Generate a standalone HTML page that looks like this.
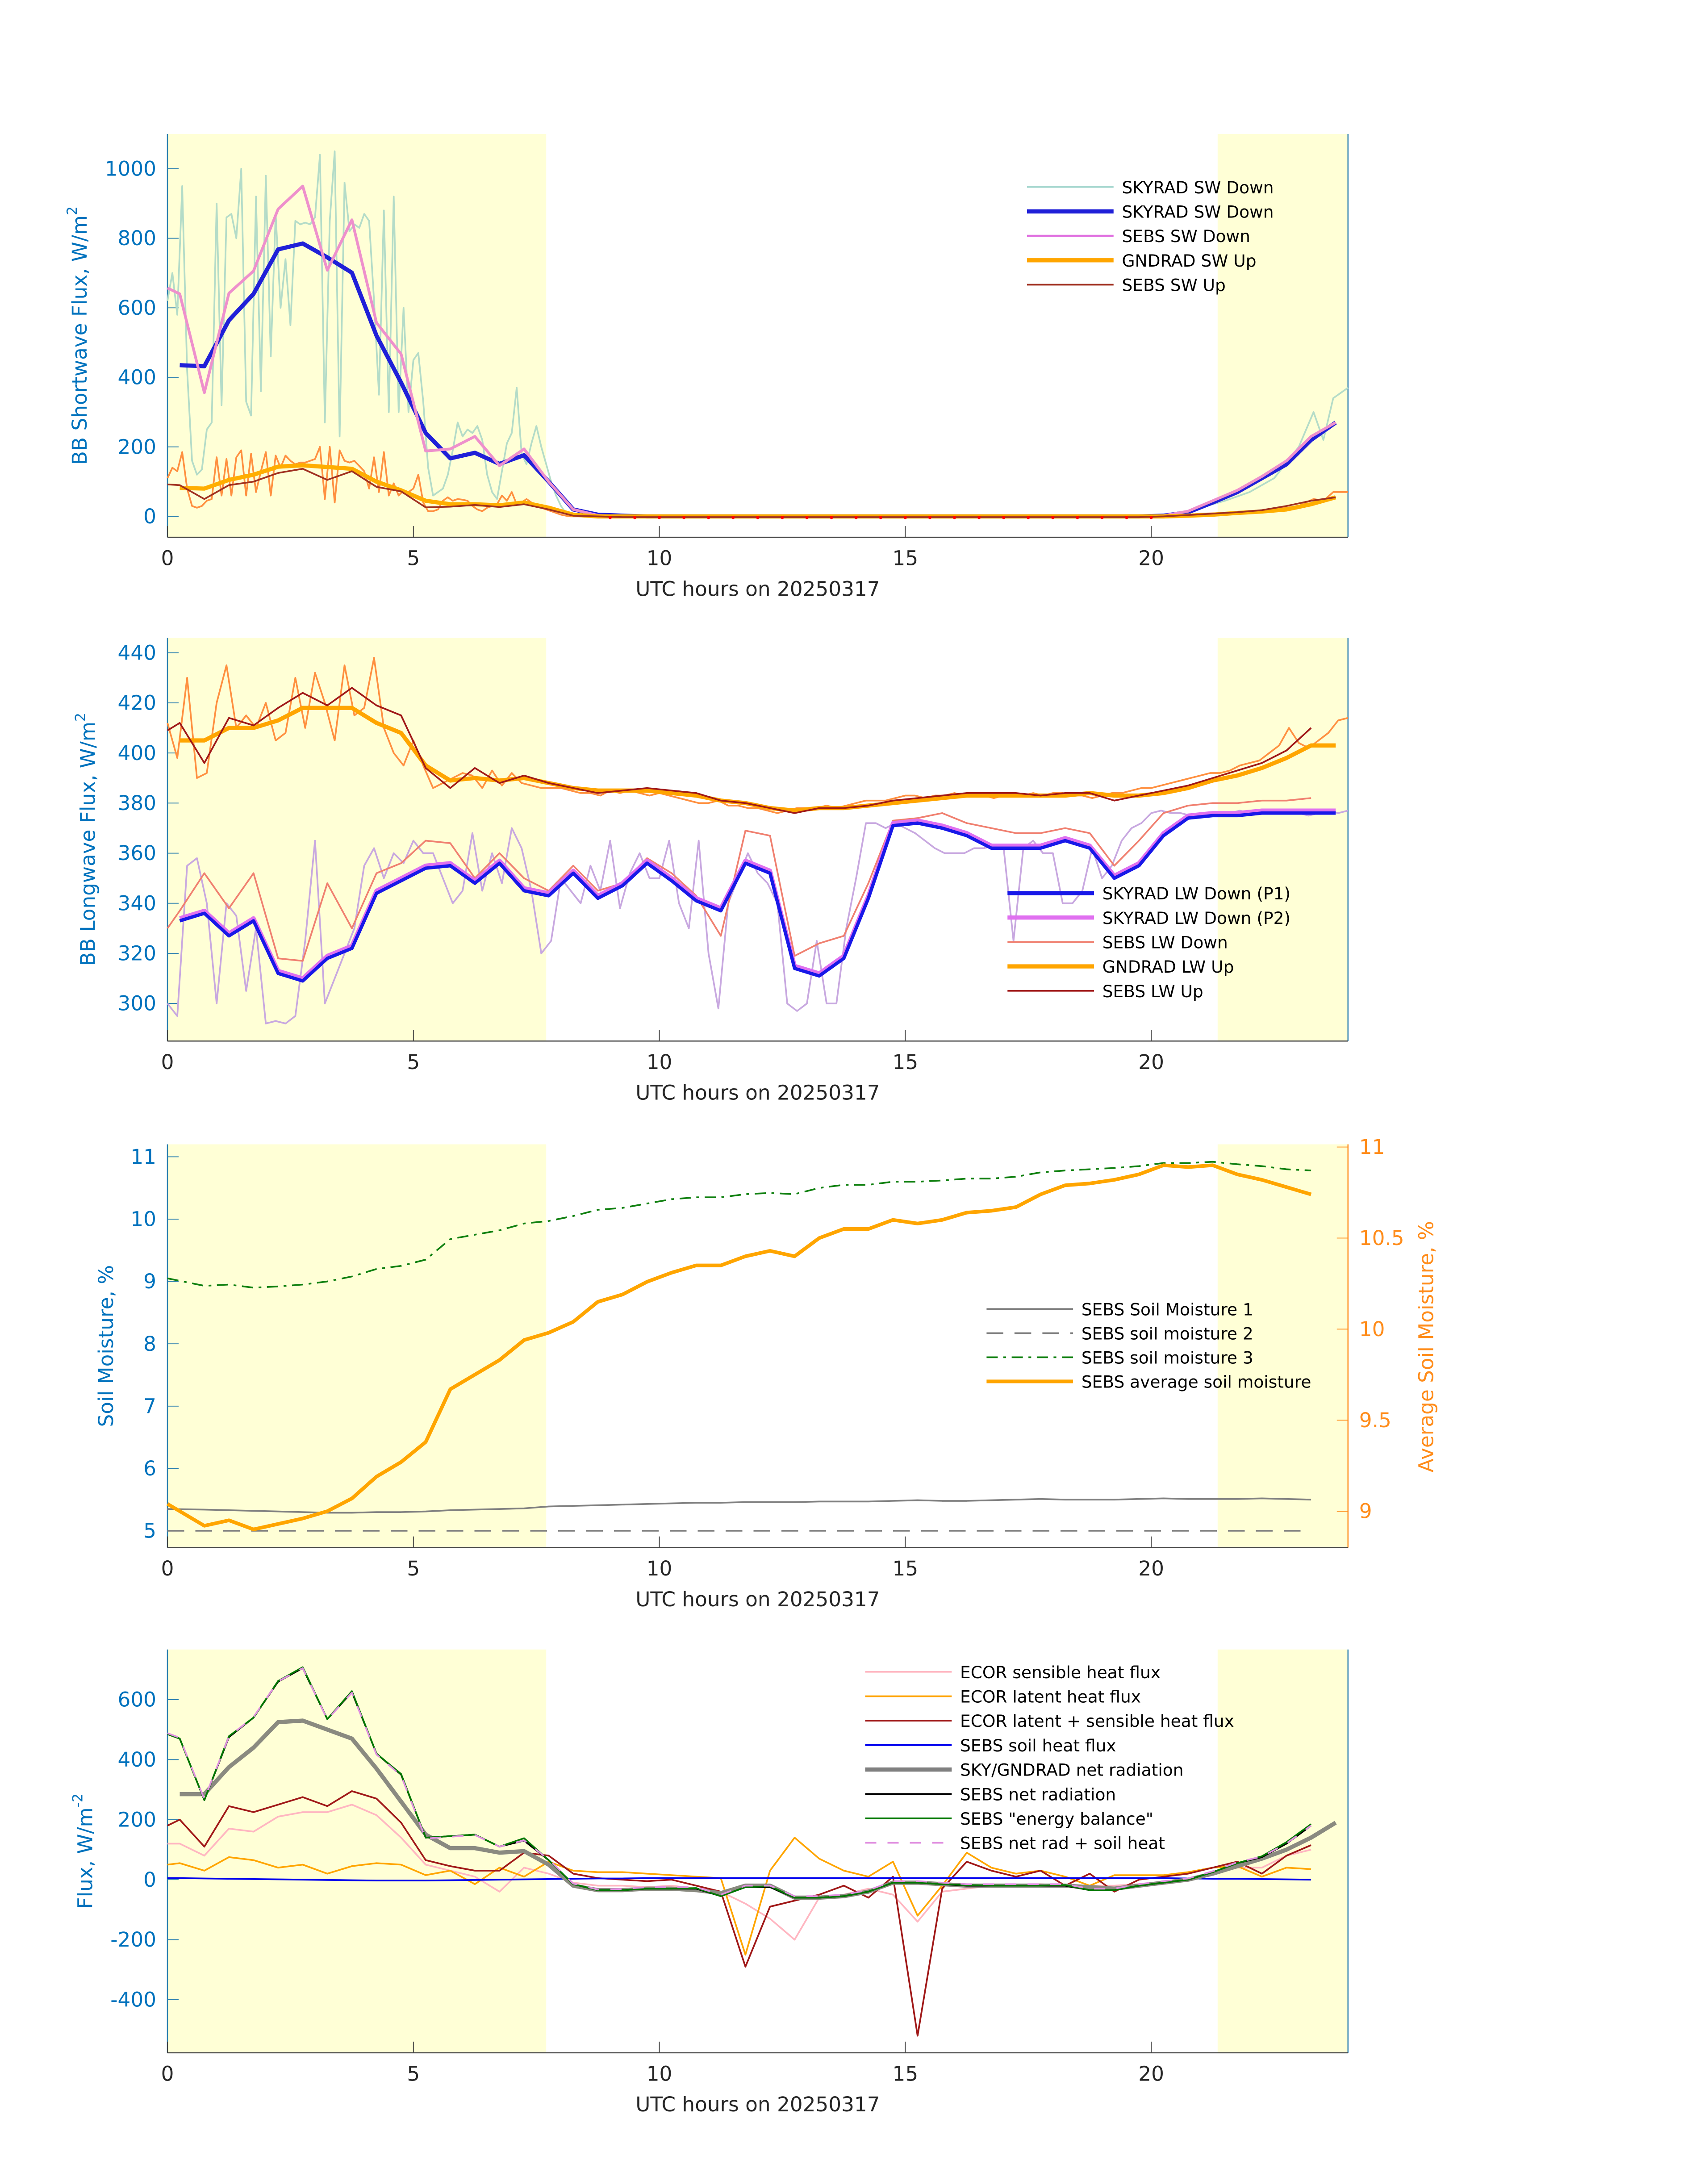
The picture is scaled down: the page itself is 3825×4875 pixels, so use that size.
<!DOCTYPE html>
<html><head><meta charset="utf-8">
<style>
html,body{margin:0;padding:0;background:#fff;}
svg{display:block;font-family:"DejaVu Sans","Liberation Sans",sans-serif;}
</style></head>
<body>
<svg id="fig" xmlns="http://www.w3.org/2000/svg" width="3825" height="4875" viewBox="0 0 1224 1560"></svg>
<script>
// ---------- DATA ----------
const halfT = [];
for (let i = 0; i < 48; i++) halfT.push(0.25 + 0.5 * i);
const xTicks = [0, 5, 10, 15, 20];

// Panel 1 shortwave
const rawSwT = [];
for (let i = 0; i <= 85; i++) rawSwT.push(i / 10);
const rawSwDown = [620,700,580,950,420,160,120,135,250,270, 900,320,860,870,800,1000,330,290,920,360, 980,460,870,600,740,550,850,840,845,840, 860,1040,270,850,1050,230,960,820,840,830, 870,850,620,350,880,300,920,300,600,300, 450,470,330,140,60,70,80,120,190,270, 230,250,240,260,220,120,70,50,130,210, 240,370,180,150,210,260,200,150,100,60, 30,10,5,2,0,0];
const rawSwUp = [110,140,130,185,80,30,25,30,45,50, 170,60,165,60,170,190,60,180,70,130, 185,60,175,140,175,160,150,155,155,160, 165,200,50,200,40,190,160,155,160,145, 130,80,170,70,185,60,95,60,75,70, 80,120,40,15,15,20,45,55,45,50, 48,45,30,20,15,25,30,35,60,45, 70,35,40,50,40,30,25,20,15,10, 5,2,0,0,0,0];
const tailT = [9,12,15,18,20,20.5,21,21.5,22,22.5,23,23.3,23.5,23.7,24];
const tailSwDown = [0,0,0,0,0,5,25,45,70,110,200,300,220,340,370];
const tailSwUp = [0,0,0,0,0,2,8,10,15,20,30,50,45,70,70];
const skySwDown = [435,432,564,640,768,785,745,701,520,385,240,167,183,151,176,100,20,5,2,0,0,0,0,0,0,0,0,0,0,0,0,0,0,0,0,0,0,0,0,0,2,12,40,70,110,150,220,270];
const sebsSwT = [0].concat(halfT);
const sebsSwDown = [657,640,356,642,706,884,950,708,853,557,467,188,194,230,146,194,100,20,3,0,0,0,0,0,0,0,0,0,0,0,0,0,0,0,0,0,0,0,0,0,0,2,15,45,75,115,160,230,270];
const gndSwUp = [82,80,105,120,143,147,142,137,100,75,45,35,35,32,40,25,5,0,0,0,0,0,0,0,0,0,0,0,0,0,0,0,0,0,0,0,0,0,0,0,0,2,5,10,14,20,35,55];
const sebsSwUp = [92,90,50,90,100,125,137,105,130,85,72,26,28,33,27,35,20,2,0,-2,-2,-2,-2,-2,-2,-2,-2,-2,-2,-2,-2,-2,-2,-2,-2,-2,-2,-2,-2,-2,-2,0,4,8,12,18,30,45,55];
const dotT = [9,9.5,10,10.5,11,11.5,12,12.5,13,13.5,14,14.5,15,15.5,16,16.5,17,17.5,18,18.5,19,19.5,20];
const dotV = [-3,-3,-3,-3,-3,-3,-3,-3,-3,-3,-3,-3,-3,-3,-3,-3,-3,-3,-3,-3,-3,-3,-3];

// Panel 2 longwave
const rawLwT = [];
for (let i = 0; i <= 120; i++) rawLwT.push(i / 5);
const rawLwDown = [300,295,355,358,340,300,340,335,305,330, 292,293,292,295,325,365,300,310,320,330, 355,362,350,360,356,365,360,360,350,340, 345,368,345,360,348,370,362,345,320,325, 350,345,340,355,345,365,338,352,360,350, 350,365,340,330,365,320,298,340,350,360, 352,348,340,300,297,300,325,300,300,330, 350,372,372,370,372,370,368,365,362,360, 360,360,362,362,363,362,325,362,365,360, 360,340,340,345,362,350,355,365,370,372, 376,377,376,376,375,375,376,376,376,377, 376,377,377,376,376,376,375,376,377,376,377];
const rawLwUp = [412,398,430,390,392,420,435,410,415,410, 420,405,408,430,410,432,420,405,435,415, 418,438,410,400,395,405,395,386,388,390, 392,391,386,393,387,392,388,387,386,386, 386,385,384,384,383,385,384,385,384,383, 384,383,382,381,380,380,381,379,379,378, 378,377,376,377,378,378,378,379,378,379, 380,381,381,381,382,383,383,382,383,383, 384,383,383,383,382,383,383,383,384,383, 384,384,383,383,382,383,384,384,385,386, 386,387,388,389,390,391,392,392,393,395, 396,397,400,403,410,404,402,405,408,413,414];
const skyLwDownP1 = [333,336,327,333,312,309,318,322,344,349,354,355,348,356,345,343,352,342,347,356,349,341,337,356,352,314,311,318,342,371,372,370,367,362,362,362,365,362,350,355,367,374,375,375,376,376,376,376];
const skyLwDownP2 = [334,337,328,334,313,310,319,323,345,350,355,356,349,357,346,344,353,343,348,357,350,342,338,357,353,315,312,319,343,372,373,371,368,363,363,363,366,363,351,356,368,375,376,376,377,377,377,377];
const sebsLwT = [0].concat(halfT.slice(0,47));
const sebsLwDown = [330,337,352,338,352,318,317,348,330,352,356,365,364,350,360,350,345,355,345,348,358,352,343,327,369,367,319,324,327,348,373,374,376,372,370,368,368,370,368,355,365,376,379,380,380,381,381,382];
const gndLwUp = [405,405,410,410,413,418,418,418,412,408,395,389,390,389,390,388,386,385,385,385,384,383,381,380,378,377,378,378,379,380,381,382,383,383,383,383,383,384,383,383,384,386,389,391,394,398,403,403];
const sebsLwUp = [409,412,396,414,411,418,424,419,426,419,415,394,386,394,388,391,388,386,384,385,386,385,384,381,380,378,376,378,378,379,381,382,383,384,384,384,383,384,384,381,383,385,387,390,393,396,401,410];

// Panel 3 soil moisture
const soilT = [0].concat(halfT.slice(1,47));
const soil1 = [5.35,5.34,5.33,5.32,5.31,5.30,5.29,5.29,5.30,5.30,5.31,5.33,5.34,5.35,5.36,5.39,5.40,5.41,5.42,5.43,5.44,5.45,5.45,5.46,5.46,5.46,5.47,5.47,5.47,5.48,5.49,5.48,5.48,5.49,5.50,5.51,5.50,5.50,5.50,5.51,5.52,5.51,5.51,5.51,5.52,5.51,5.50];
const soil2 = [5.0,5.0,5.0,5.0,5.0,5.0,5.0,5.0,5.0,5.0,5.0,5.0,5.0,5.0,5.0,5.0,5.0,5.0,5.0,5.0,5.0,5.0,5.0,5.0,5.0,5.0,5.0,5.0,5.0,5.0,5.0,5.0,5.0,5.0,5.0,5.0,5.0,5.0,5.0,5.0,5.0,5.0,5.0,5.0,5.0,5.0,5.0];
const soil3 = [9.05,8.93,8.95,8.9,8.92,8.95,9.0,9.08,9.2,9.25,9.35,9.68,9.75,9.82,9.93,9.97,10.05,10.15,10.18,10.25,10.32,10.35,10.35,10.4,10.42,10.4,10.5,10.55,10.55,10.6,10.6,10.62,10.65,10.65,10.68,10.75,10.78,10.8,10.82,10.85,10.9,10.9,10.92,10.88,10.85,10.8,10.78];
const soilAvg = [9.04,8.92,8.95,8.9,8.93,8.96,9.0,9.07,9.19,9.27,9.38,9.67,9.75,9.83,9.94,9.98,10.04,10.15,10.19,10.26,10.31,10.35,10.35,10.4,10.43,10.4,10.5,10.55,10.55,10.6,10.58,10.6,10.64,10.65,10.67,10.74,10.79,10.8,10.82,10.85,10.9,10.89,10.9,10.85,10.82,10.78,10.74];

// Panel 4 flux
const fluxT = [0].concat(halfT.slice(0,47));
const ecorSens = [120,120,80,170,160,210,225,225,250,215,140,50,30,10,-40,40,20,-10,-20,-20,-25,-20,-30,-40,-80,-130,-200,-60,-50,-30,-50,-140,-40,-30,-20,-20,-15,-20,-20,-20,-15,-10,0,20,40,40,80,100];
const ecorLat = [50,55,30,75,65,40,50,20,45,55,50,15,30,-15,40,10,60,30,25,25,20,15,10,5,-250,30,140,70,30,10,60,-120,-20,90,40,20,30,10,-20,15,15,15,25,40,45,10,40,35];
const ecorSum = [180,200,110,245,225,250,275,245,295,270,190,65,45,30,30,90,80,20,5,0,-5,0,-20,-40,-290,-90,-70,-50,-20,-60,10,-520,-30,60,30,10,30,-20,20,-40,0,10,20,40,60,20,80,115];
const soilHeat = [5,5,4,3,2,1,0,-1,-2,-3,-3,-3,-2,-1,0,1,2,3,4,4,5,5,5,5,5,5,5,5,5,5,5,5,5,5,5,5,5,5,5,5,5,5,4,3,3,2,1,0];
const skyNetT = halfT;
const skyNet = [285,285,375,440,525,530,500,470,370,260,150,105,105,90,95,50,-20,-35,-35,-30,-30,-35,-45,-20,-20,-60,-60,-55,-40,-10,-10,-15,-20,-20,-20,-20,-20,-25,-30,-20,-10,0,20,45,70,100,140,190];
const sebsNet = [485,470,265,475,540,660,705,535,625,420,350,140,145,150,110,130,65,-15,-35,-35,-30,-30,-30,-55,-25,-25,-60,-60,-55,-40,-10,-10,-15,-20,-20,-20,-20,-20,-35,-35,-20,-10,0,25,55,75,120,180];
const energyBal = [485,470,265,478,540,662,708,535,628,420,352,140,145,150,110,138,65,-15,-35,-35,-30,-30,-28,-55,-25,-22,-60,-60,-55,-40,-10,-10,-15,-18,-20,-20,-20,-18,-35,-35,-20,-10,0,25,55,78,125,185];
const netPlusSoil = [488,473,268,477,542,661,705,534,623,417,347,137,143,149,110,131,67,-13,-33,-31,-25,-25,-25,-50,-20,-20,-55,-55,-50,-35,-5,-5,-10,-15,-15,-15,-15,-15,-30,-30,-15,-5,4,28,58,77,121,180];

// ---------- DRAWING ----------
const NS = "http://www.w3.org/2000/svg";
const svg = document.getElementById("fig");
const X0 = 120, X1 = 966;
function mk(tag, attrs, parent) {
  const e = document.createElementNS(NS, tag);
  for (const k in attrs) e.setAttribute(k, attrs[k]);
  (parent || svg).appendChild(e);
  return e;
}
function xs(h) { return X0 + (h / 24) * (X1 - X0); }
function yScale(top, bot, vTop, vBot) { return v => top + (vTop - v) / (vTop - vBot) * (bot - top); }

function panel(name, top, bot, ysc, yticks, ylabel, labelX, rightAxis) {
  const g = mk("g", {});
  
  
  const b1 = mk("rect", {x: X0, y: top, width: xs(7.7) - X0, height: bot - top, fill: "#ffffd6"}, g);
  
  
  const b2 = mk("rect", {x: xs(21.35), y: top, width: X1 - xs(21.35), height: bot - top, fill: "#ffffd6"}, g);
  
  
  // axes
  mk("line", {x1: X0, y1: top, x2: X0, y2: bot, stroke: "#2b7fb0", "stroke-width": 0.8}, g);
  mk("line", {x1: X1, y1: top, x2: X1, y2: bot, stroke: rightAxis ? "#ff8c1a" : "#2b7fb0", "stroke-width": 0.8}, g);
  mk("line", {x1: X0, y1: bot, x2: X1, y2: bot, stroke: "#404040", "stroke-width": 0.8}, g);
  xTicks.forEach(h => {
    mk("line", {x1: xs(h), y1: bot, x2: xs(h), y2: bot - 8, stroke: "#404040", "stroke-width": 0.6}, g);
    const t = mk("text", {x: xs(h), y: bot + 20, "text-anchor": "middle", "font-size": 14.5, fill: "#262626"}, g);
    t.textContent = h;
    
    
  });
  yticks.forEach(v => {
    mk("line", {x1: X0, y1: ysc(v), x2: X0 + 8, y2: ysc(v), stroke: "#2b7fb0", "stroke-width": 0.6}, g);
    const t = mk("text", {x: X0 - 8, y: ysc(v) + 5, "text-anchor": "end", "font-size": 14.5, fill: "#0072bd"}, g);
    t.textContent = v;
    
    
  });
  const xl = mk("text", {x: 543, y: bot + 42, "text-anchor": "middle", "font-size": 14.5, fill: "#262626"}, g);
  xl.textContent = "UTC hours on 20250317";
  
  
  const cy = (top + bot) / 2;
  const yl = mk("text", {x: labelX, y: cy, "text-anchor": "middle", "font-size": 14.5, fill: "#0072bd", transform: `rotate(-90 ${labelX} ${cy})`}, g);
  yl.innerHTML = ylabel;
  
  
  return g;
}
function series(g, name, tArr, vArr, ysc, color, width, dash) {
  const pts = tArr.map((t, i) => xs(t).toFixed(2) + "," + ysc(vArr[i]).toFixed(2)).join(" ");
  const a = {points: pts, fill: "none", stroke: color, "stroke-width": width, "stroke-linejoin": "round"};
  if (dash) a["stroke-dasharray"] = dash;
  const p = mk("polyline", a, g);
  
  
}
function legend(g, x, y0, dy, items) {
  items.forEach((it, i) => {
    const y = y0 + i * dy;
    const a = {x1: x, y1: y, x2: x + 62, y2: y, stroke: it[1], "stroke-width": it[2]};
    if (it[3]) a["stroke-dasharray"] = it[3];
    mk("line", a, g);
    const t = mk("text", {x: x + 68, y: y + 4.5, "font-size": 12, fill: "#000"}, g);
    t.textContent = it[0];
    
    
  });
}

// Panel 1
const y1 = yScale(96, 385, 1100, -60);
const g1 = panel("shortwave-panel", 96, 385, y1, [0,200,400,600,800,1000], 'BB Shortwave Flux, W/m<tspan dy="-7" font-size="10">2</tspan>', 62, false);
series(g1, "raw-skyrad-sw-down", rawSwT.concat(tailT), rawSwDown.concat(tailSwDown), y1, "#b4dcc8", 1.2);
series(g1, "raw-gndrad-sw-up", rawSwT.concat(tailT), rawSwUp.concat(tailSwUp), y1, "#ff9040", 1.2);
series(g1, "skyrad-sw-down", halfT, skySwDown, y1, "#2020d8", 3);
series(g1, "sebs-sw-down", sebsSwT, sebsSwDown, y1, "#ee90cc", 2);
series(g1, "gndrad-sw-up", halfT, gndSwUp, y1, "#ffae00", 3);
series(g1, "sebs-sw-up", sebsSwT, sebsSwUp, y1, "#a03020", 1.2);
dotT.forEach((t, i) => { const c = mk("circle", {cx: xs(t), cy: y1(dotV[i]), r: 1.2, fill: "#ff0000"}, g1);   });
legend(g1, 736, 134, 17.5, [["SKYRAD SW Down", "#a8d8d0", 1.2], ["SKYRAD SW Down", "#2020d8", 3], ["SEBS SW Down", "#e070e0", 1.5], ["GNDRAD SW Up", "#ffa500", 3], ["SEBS SW Up", "#a03020", 1.2]]);

// Panel 2
const y2 = yScale(457, 746, 446, 285);
const g2 = panel("longwave-panel", 457, 746, y2, [300,320,340,360,380,400,420,440], 'BB Longwave Flux, W/m<tspan dy="-7" font-size="10">2</tspan>', 68, false);
series(g2, "raw-lw-down", rawLwT, rawLwDown, y2, "#c8a8e0", 1.2);
series(g2, "raw-lw-up", rawLwT, rawLwUp, y2, "#ff9040", 1.2);
series(g2, "sebs-lw-down", sebsLwT, sebsLwDown, y2, "#f08070", 1.2);
series(g2, "skyrad-lw-down-p2", halfT, skyLwDownP2, y2, "#e070f0", 3);
series(g2, "skyrad-lw-down-p1", halfT, skyLwDownP1, y2, "#1818e8", 2.4);
series(g2, "gndrad-lw-up", halfT, gndLwUp, y2, "#ffa500", 3);
series(g2, "sebs-lw-up", sebsLwT, sebsLwUp, y2, "#a01818", 1.2);
legend(g2, 722, 640, 17.5, [["SKYRAD LW Down (P1)", "#1818e8", 3], ["SKYRAD LW Down (P2)", "#e070f0", 3], ["SEBS LW Down", "#f08070", 1.2], ["GNDRAD LW Up", "#ffa500", 3], ["SEBS LW Up", "#a01818", 1.2]]);

// Panel 3
const y3 = yScale(820, 1109, 11.2, 4.73);
const y3r = yScale(820, 1109, 11.015, 8.8);
const g3 = panel("soil-moisture-panel", 820, 1109, y3, [5,6,7,8,9,10,11], 'Soil Moisture, %', 81, true);
[9, 9.5, 10, 10.5, 11].forEach(v => {
  mk("line", {x1: X1, y1: y3r(v), x2: X1 - 8, y2: y3r(v), stroke: "#ff8c1a", "stroke-width": 0.6}, g3);
  const t = mk("text", {x: X1 + 8, y: y3r(v) + 5, "font-size": 14.5, fill: "#ff8c1a"}, g3);
  t.textContent = v;
  
  
});
const ry = mk("text", {x: 1027, y: 965, "text-anchor": "middle", "font-size": 14.5, fill: "#ff8c1a", transform: "rotate(-90 1027 965)"}, g3);
ry.textContent = "Average Soil Moisture, %";


series(g3, "sebs-soil-moisture-1", soilT, soil1, y3, "#808080", 1.2);
series(g3, "sebs-soil-moisture-2", soilT, soil2, y3, "#808080", 1.2, "12 8");
series(g3, "sebs-soil-moisture-3", soilT, soil3, y3, "#108010", 1.2, "8 4 2 4");
series(g3, "sebs-average-soil-moisture", soilT, soilAvg, y3r, "#ffa500", 2.6);
legend(g3, 707, 938, 17.3, [["SEBS Soil Moisture 1", "#808080", 1.2], ["SEBS soil moisture 2", "#808080", 1.2, "12 8"], ["SEBS soil moisture 3", "#108010", 1.2, "8 4 2 4"], ["SEBS average soil moisture", "#ffa500", 2.6]]);

// Panel 4
const y4 = yScale(1182, 1471, 767, -577);
const g4 = panel("flux-panel", 1182, 1471, y4, [-400,-200,0,200,400,600], 'Flux, W/m<tspan dy="-7" font-size="10">-2</tspan>', 66, false);
series(g4, "ecor-sensible-heat-flux", fluxT, ecorSens, y4, "#ffb6c1", 1.2);
series(g4, "ecor-latent-heat-flux", fluxT, ecorLat, y4, "#ffa500", 1.2);
series(g4, "ecor-latent-plus-sensible", fluxT, ecorSum, y4, "#a01818", 1.2);
series(g4, "sebs-soil-heat-flux", fluxT, soilHeat, y4, "#0000ee", 1.2);
series(g4, "skygndrad-net-radiation", skyNetT, skyNet, y4, "#8a8a80", 3);
series(g4, "sebs-net-radiation", fluxT, sebsNet, y4, "#000000", 1.2);
series(g4, "sebs-energy-balance", fluxT, energyBal, y4, "#007800", 1.2);
series(g4, "sebs-net-rad-plus-soil-heat", fluxT, netPlusSoil, y4, "#e090e0", 1.2, "8 8");
legend(g4, 620, 1198, 17.5, [["ECOR sensible heat flux", "#ffb6c1", 1.2], ["ECOR latent heat flux", "#ffa500", 1.2], ["ECOR latent + sensible heat flux", "#a01818", 1.2], ["SEBS soil heat flux", "#0000ee", 1.2], ["SKY/GNDRAD net radiation", "#808080", 3], ["SEBS net radiation", "#000000", 1.2], ["SEBS \"energy balance\"", "#007800", 1.2], ["SEBS net rad + soil heat", "#e090e0", 1.2, "8 8"]]);
</script>
</body></html>
